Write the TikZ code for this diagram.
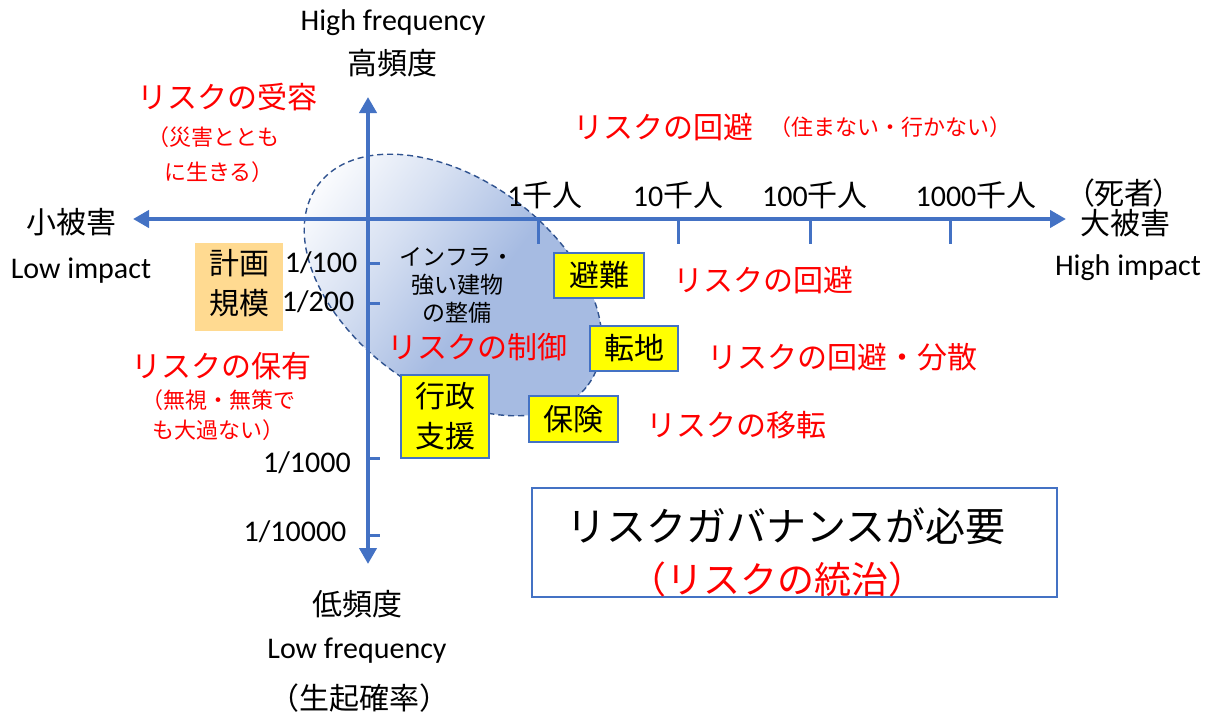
\documentclass[tikz,border=0pt]{standalone}
\usepackage{fontspec}
\setmainfont{Carlito}
\newfontfamily\jp{Noto Sans CJK JP}
\newfontfamily\jpp{Noto Sans CJK JP}[RawFeature=+palt]
\usetikzlibrary{shapes.geometric,arrows.meta}
\definecolor{axisblue}{RGB}{68,114,196}
\definecolor{dashblue}{RGB}{47,82,143}
\definecolor{ellblue}{RGB}{166,187,226}
\definecolor{ellblue2}{RGB}{196,210,236}
\definecolor{jred}{RGB}{255,0,0}
\definecolor{planorange}{RGB}{255,218,145}
\definecolor{yel}{RGB}{255,255,0}
\pgfdeclarehorizontalshading{zoneshade}{100bp}{color(0bp)=(white); color(22bp)=(white); color(38bp)=(white!55!ellblue); color(55bp)=(ellblue); color(75bp)=(ellblue); color(100bp)=(ellblue2)}
\begin{document}
\begin{tikzpicture}[x=1pt,y=-1pt,
  lat/.style={inner sep=0pt, font=\fontsize{30}{36}\selectfont},
  jt/.style={inner sep=0pt, font=\jp\fontsize{30}{36}\selectfont},
  js/.style={inner sep=0pt, font=\jp\fontsize{22}{26}\selectfont},
  rd/.style={text=jred},
  axis/.style={draw=axisblue, line width=4.5pt, {Triangle[length=16pt,width=17pt]}-{Triangle[length=16pt,width=17pt]}},
  tickmark/.style={draw=axisblue, line width=3pt},
  ell/.style={ellipse, minimum width=336pt, minimum height=210pt, inner sep=0pt, rotate=-36.5,
    draw=dashblue, dash pattern=on 6pt off 4pt, line width=1.4pt,
    shading=zoneshade, shading angle=-36.5},
  ybox/.style={draw=axisblue, line width=1.2pt, fill=yel, inner sep=0pt, font=\jp\fontsize{30}{40}\selectfont, align=center},
  planbox/.style={fill=planorange, inner sep=0pt, minimum width=88pt, minimum height=88pt},
  govbox/.style={draw=axisblue, line width=1.2pt, inner sep=0pt, minimum width=525pt, minimum height=109pt}
]
\useasboundingbox[fill=white] (0,0) rectangle (1211,717);

% risk control zone
\node[ell] (zone) at (453,285) {};

% axes
\coordinate (L) at (133,219);
\coordinate (R) at (1066,219);
\coordinate (T) at (368,97);
\coordinate (B) at (368,564);
\draw[axis] (L) -- (R);
\draw[axis] (B) -- (T);

% ticks
\foreach \yy in {263,303,458,535} \draw[tickmark] (368,\yy) -- (380,\yy);
\foreach \xx in {538,678,810,950} \draw[tickmark] (\xx,219) -- (\xx,244);

% axis labels
\node[lat] (hf) at (393,23) {High frequency};
\node[jt] (hfj) at (392,63) {高頻度};
\node[jt] (lowdmg) at (72,222) {小被害};
\node[lat] (lowimp) at (81,271) {Low impact};
\node[jt] (dead) at (1124,193) {\jpp （死者）};
\node[jt] (bigdmg) at (1125,223) {大被害};
\node[lat] (highimp) at (1128,268) {High impact};
\node[jt] (lowf) at (357,604) {低頻度};
\node[lat] (lowfreq) at (357,651) {Low frequency};
\node[jt] (prob) at (359,698) {（生起確率）};

% scale labels
\node[lat] (p100) at (321,263) {1/100};
\node[lat] (p200) at (318,302) {1/200};
\node[lat] (p1000) at (307,463) {1/1000};
\node[lat] (p10000) at (295,532) {1/10000};
\node[lat] (k1) at (545,195) {1{\jp 千人}};
\node[lat] (k10) at (678,195) {10{\jp 千人}};
\node[lat] (k100) at (815,195) {100{\jp 千人}};
\node[lat] (k1000) at (976,195) {1000{\jp 千人}};

% plan scale box
\node[planbox] (plan) at (239,287) {};
\node[jt] (plan1) at (239,263) {計画};
\node[jt] (plan2) at (239,303) {規模};

% quadrant labels
\node[jt,rd] (accept) at (227,97) {リスクの受容};
\node[js,rd] (accept1) at (213,137) {（災害ととも};
\node[js,rd] (accept2) at (219,172) {に生きる）};
\node[jt,rd] (avoidtop) at (663,127) {リスクの回避};
\node[js,rd] (avoidtop2) at (890,127) {（住まない・行かない）};
\node[jt,rd] (retain) at (221,366) {リスクの保有};
\node[js,rd] (retain1) at (218,400) {（無視・無策で};
\node[js,rd] (retain2) at (218,430) {も大過ない）};

% inside zone
\node[inner sep=0pt, font=\jp\fontsize{23}{28}\selectfont, align=center] (infra) at (457,285) {インフラ・\\強い建物\\の整備};
\node[jt,rd] (control) at (477,347) {リスクの制御};

% measures
\node[ybox, minimum width=90pt, minimum height=45pt] (evac) at (599,275.5) {避難};
\node[ybox, minimum width=88pt, minimum height=45pt] (move) at (634,348.5) {転地};
\node[ybox, minimum width=88pt, minimum height=83pt] (admin) at (445,416.5) {行政\\支援};
\node[ybox, minimum width=89pt, minimum height=46pt] (insur) at (573.5,419) {保険};

\node[jt,rd] (avoid1) at (763,280) {リスクの回避};
\node[jt,rd] (avoid2) at (842,357) {リスクの回避・分散};
\node[jt,rd] (transfer) at (736,425) {リスクの移転};

% governance box
\node[govbox] (gov) at (794.5,542.5) {};
\node[inner sep=0pt, font=\jp\fontsize{40}{48}\selectfont] (gov1) at (786,526) {リスクガバナンスが必要};
\node[inner sep=0pt, font=\jp\fontsize{37}{44}\selectfont, text=jred] (gov2) at (777,579) {（リスクの統治）};
\end{tikzpicture}
\end{document}
